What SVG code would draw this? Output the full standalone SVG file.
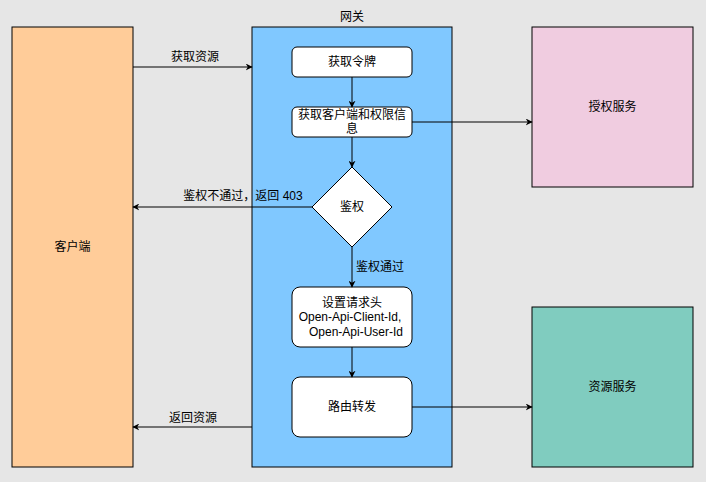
<svg xmlns="http://www.w3.org/2000/svg" width="706" height="482" viewBox="0 0 706 482">
<defs>
<marker id="arr" viewBox="0 0 10 10" refX="9" refY="5" markerWidth="7" markerHeight="7" orient="auto" markerUnits="userSpaceOnUse">
<path d="M0,0 L10,5 L0,10 L3,5 Z" fill="#000"/>
</marker>
</defs>
<style>
text{font-family:"Liberation Sans","Noto Sans CJK SC",sans-serif;font-size:12px;fill:#000}
.c{text-anchor:middle;dominant-baseline:central}
.n{stroke:#000;stroke-width:1}
.e{stroke:#000;stroke-width:1;fill:none;marker-end:url(#arr)}
</style>
<rect width="706" height="482" fill="#e6e6e6"/>
<g id="client"><rect class="n" x="12" y="27" width="121" height="440" fill="#ffcc99"/><text class="c" x="72.5" y="247">客户端</text></g>
<g id="gateway"><rect class="n" x="252" y="27" width="200" height="440" fill="#80c8ff"/><text class="c" x="352" y="17">网关</text></g>
<g id="auth-service"><rect class="n" x="532" y="27" width="161" height="160" fill="#f0cce0"/><text class="c" x="612.5" y="107">授权服务</text></g>
<g id="resource-service"><rect class="n" x="532" y="307" width="161" height="160" fill="#80ccbf"/><text class="c" x="612.5" y="387">资源服务</text></g>
<g id="get-token"><rect class="n" x="292" y="47" width="120" height="30" rx="5" fill="#fff"/><text class="c" x="352" y="62">获取令牌</text></g>
<g id="get-client"><rect class="n" x="292" y="107" width="120" height="30" rx="5" fill="#fff"/><text class="c" x="352" y="115">获取客户端和权限信</text><text class="c" x="352" y="129">息</text></g>
<g id="authz"><polygon class="n" points="352,167 392,207 352,247 312,207" fill="#fff"/><text class="c" x="352" y="207">鉴权</text></g>
<g id="set-header"><rect class="n" x="292" y="287" width="120" height="60" rx="8" fill="#fff"/><text class="c" x="352" y="303">设置请求头</text><text class="c" x="350" y="317">Open-Api-Client-Id,</text><text class="c" x="356" y="332">Open-Api-User-Id</text></g>
<g id="route"><rect class="n" x="292" y="377" width="120" height="60" rx="8" fill="#fff"/><text class="c" x="352" y="407">路由转发</text></g>
<g id="connectors">
<line class="e" x1="133" y1="67" x2="252" y2="67"/>
<text class="c" x="195" y="57">获取资源</text>
<line class="e" x1="352" y1="77" x2="352" y2="107"/>
<line class="e" x1="412" y1="122" x2="532" y2="122"/>
<line class="e" x1="352" y1="137" x2="352" y2="167"/>
<line class="e" x1="312" y1="207" x2="133" y2="207"/>
<text class="c" x="243" y="196">鉴权不通过，返回 403</text>
<line class="e" x1="352" y1="247" x2="352" y2="287"/>
<text x="356" y="271">鉴权通过</text>
<line class="e" x1="352" y1="347" x2="352" y2="377"/>
<line class="e" x1="412" y1="407" x2="532" y2="407"/>
<line class="e" x1="252" y1="427" x2="133" y2="427"/>
<text class="c" x="193" y="418">返回资源</text>
</g>
</svg>
